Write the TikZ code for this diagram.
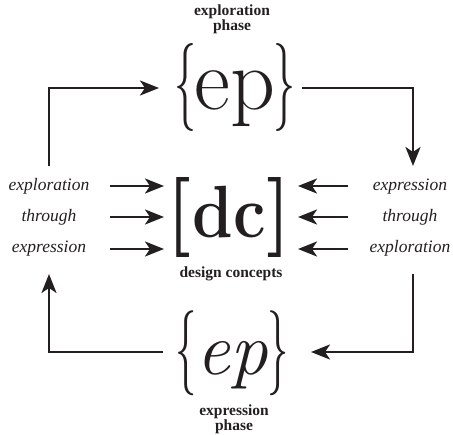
\documentclass[tikz,border=0pt]{standalone}
\usepackage{fontspec}
\usetikzlibrary{arrows.meta}
\definecolor{ink}{HTML}{231F20}
\newfontfamily\lblfont{Liberation Serif}
\begin{document}
\begin{tikzpicture}[x=1pt,y=-1pt,
  arr/.style={draw=ink,line width=2.4pt,-{Stealth[length=19pt,width=15pt,inset=5pt]}},
  lbl/.style={font=\lblfont\fontsize{17.5}{17.5}\selectfont\itshape,text=ink,anchor=base,inner sep=0pt},
  phase/.style={font=\lblfont\fontsize{15.5}{15.5}\selectfont\bfseries,text=ink,anchor=base,inner sep=0pt},
  big/.style={text=ink,anchor=base,inner sep=0pt}]
\useasboundingbox (0,0) rectangle (453,435);
% phase labels
\node[phase] (tp1) at (232,16) {exploration};
\node[phase] (tp2) at (232,31) {phase};
\node[phase] (bp1) at (234,416) {expression};
\node[phase] (bp2) at (234,431) {phase};
% central symbols
\node[big] (epT) at (235,110) {\fontsize{88}{88}\selectfont\scalebox{0.5}[1]{\{}\kern-2pt ep\kern-2pt\scalebox{0.5}[1]{\}}};
\node[big] (dc) at (229,238) {\fontsize{80}{80}\selectfont\textbf{[}\kern1pt\scalebox{0.88}[1]{\fontsize{74}{74}\selectfont\bfseries dc}\kern1pt\textbf{]}};
\node[phase] (dcl) at (231,278) {design concepts};
\node[big] (epB) at (232,375) {\fontsize{85}{85}\selectfont\scalebox{0.5}[1]{\{}{\fontsize{75}{75}\selectfont\itshape ep}\scalebox{0.5}[1]{\}}};
% side labels
\node[lbl] (l1) at (49,191) {exploration};
\node[lbl] (l2) at (49,222) {through};
\node[lbl] (l3) at (49,253) {expression};
\node[lbl] (r1) at (410,191) {expression};
\node[lbl] (r2) at (410,222) {through};
\node[lbl] (r3) at (410,253) {exploration};
% connector ends
\coordinate (a1) at (49,166);
\coordinate (a2) at (159,88);
\coordinate (b1) at (302,88);
\coordinate (b2) at (413,166);
\coordinate (c1) at (413,274);
\coordinate (c2) at (311,352);
\coordinate (d1) at (163,352);
\coordinate (d2) at (49,274);
\draw[arr] (a1) |- (a2);
\draw[arr] (b1) -| (b2);
\draw[arr] (c1) |- (c2);
\draw[arr] (d1) -| (d2);
\foreach \y [count=\i] in {186,217,249}{
  \coordinate (ls\i) at (110,\y);
  \coordinate (le\i) at (164,\y);
  \coordinate (rs\i) at (348,\y);
  \coordinate (re\i) at (298,\y);
  \draw[arr] (ls\i) -- (le\i);
  \draw[arr] (rs\i) -- (re\i);
}
\end{tikzpicture}
\end{document}
